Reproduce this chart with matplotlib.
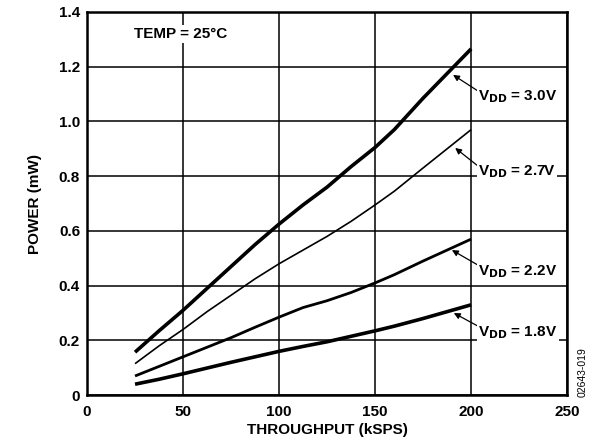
import matplotlib
matplotlib.use("Agg")
import matplotlib.pyplot as plt

plt.rcParams["font.family"] = ["Liberation Sans", "DejaVu Sans"]
plt.rcParams["font.weight"] = "bold"

# throughput (kSPS) and power (mW)
throughput = [25, 37.5, 50, 62.5, 75, 87.5, 100, 112.5, 125, 137.5, 150, 160, 175, 187.5, 200]
power_30 = [0.157, 0.235, 0.31, 0.39, 0.47, 0.55, 0.625, 0.695, 0.76, 0.835, 0.905, 0.97, 1.085, 1.175, 1.265]
power_27 = [0.115, 0.18, 0.24, 0.305, 0.365, 0.425, 0.48, 0.53, 0.58, 0.635, 0.695, 0.745, 0.83, 0.9, 0.97]
power_22 = [0.07, 0.105, 0.14, 0.175, 0.21, 0.248, 0.285, 0.32, 0.345, 0.375, 0.41, 0.44, 0.49, 0.53, 0.57]
power_18 = [0.04, 0.058, 0.078, 0.099, 0.12, 0.14, 0.16, 0.178, 0.195, 0.215, 0.235, 0.252, 0.28, 0.305, 0.33]

labels = ["3.0V", "2.7V", "2.2V", "1.8V"]
series = [power_30, power_27, power_22, power_18]
widths = [2.6, 1.2, 2.0, 2.6]
# arrow tip (on curve), label anchor
arrow_tips = [(190.6, 1.17), (191.7, 0.903), (190, 0.53), (191, 0.30)]
label_pos = [(203.6, 1.089), (203.6, 0.815), (203.6, 0.453), (203.6, 0.230)]

fig = plt.figure(figsize=(5.92, 4.42), dpi=100)
ax = fig.add_axes([0.147, 0.106, 0.811, 0.867])

for ys, lw in zip(series, widths):
    ax.plot(throughput, ys, color="black", lw=lw, solid_capstyle="butt", zorder=3)

for lab, tip, pos in zip(labels, arrow_tips, label_pos):
    ax.annotate("", xy=tip, xytext=(pos[0], pos[1] + 0.022),
                arrowprops=dict(arrowstyle="-|>", color="black", lw=0.9,
                                mutation_scale=9, shrinkA=0, shrinkB=0),
                zorder=4)
    ax.text(pos[0], pos[1], r"V$_{\mathbf{DD}}$ = " + lab, ha="left", va="center",
            fontsize=11, fontweight="bold", zorder=5,
            bbox=dict(facecolor="white", edgecolor="none", pad=1.0))

ax.text(24.5, 1.32, "TEMP = 25°C", ha="left", va="center", fontsize=11,
        fontweight="bold", zorder=5,
        bbox=dict(facecolor="white", edgecolor="none", pad=1.5))

ax.set_xlim(0, 250)
ax.set_ylim(0, 1.4)
ax.set_xticks([0, 50, 100, 150, 200, 250])
ax.set_xticklabels(["0", "50", "100", "150", "200", "250"])
ax.set_yticks([0, 0.2, 0.4, 0.6, 0.8, 1.0, 1.2, 1.4])
ax.set_yticklabels(["0", "0.2", "0.4", "0.6", "0.8", "1.0", "1.2", "1.4"])
ax.tick_params(length=0, labelsize=11)
ax.tick_params(axis="x", pad=7)
ax.tick_params(axis="y", pad=5)
for lbl in ax.get_xticklabels() + ax.get_yticklabels():
    lbl.set_fontweight("bold")
ax.grid(True, color="black", lw=1.1, zorder=1)
ax.set_axisbelow(True)
for sp in ax.spines.values():
    sp.set_linewidth(1.8)
    sp.set_zorder(6)

ax.set_xlabel("THROUGHPUT (kSPS)", fontsize=11, fontweight="bold", labelpad=3)
ax.set_ylabel("POWER (mW)", fontsize=11, fontweight="bold", labelpad=12)

fig.text(0.985, 0.158, "02643-019", rotation=90, fontsize=7.5,
         fontweight="normal", ha="center", va="center")

fig.savefig("out.png", dpi=100)
